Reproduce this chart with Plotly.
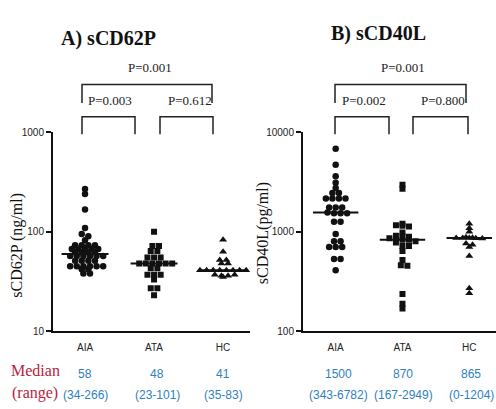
import numpy as np
import plotly.graph_objects as go

W, H = 496, 409

categories = ["AIA", "ATA", "HC"]

# Panel A: sCD62P (ng/ml)
a_aia = [268, 239, 167, 109, 95, 90, 82, 73, 73, 73, 73, 67, 67, 67, 67, 67,
         62, 62, 62, 62, 57, 57, 57, 57, 57, 57, 51, 51, 51, 51,
         45, 45, 45, 45, 45, 45, 42, 42, 38, 38]
a_ata = [100, 72, 72, 64, 64, 55, 55, 55, 48, 48, 48, 48, 48, 48,
         43, 43, 37, 37, 37, 33, 27, 27, 23]
a_hc = [83, 63, 52, 52, 48, 48, 41, 41, 41, 41, 41, 41, 41, 41,
        37, 36, 35, 36, 37]

# Panel B: sCD40L (pg/ml)
b_aia = [6800, 4700, 3600, 3100, 2750, 2450, 2450, 2150, 2150, 2150, 2150,
         1750, 1750, 1750, 1560, 1530, 1530, 1530, 1260, 1260, 950, 800, 800,
         700, 700, 700, 530, 530, 410]
b_ata = [2970, 2700, 1200, 1160, 1150, 1130, 980, 910, 900, 890, 860, 830,
         830, 830, 800, 780, 720, 720, 640, 520, 460, 455, 236, 189, 169]
b_hc = [1204, 1080, 1000, 880, 870, 865, 865, 865, 860, 855, 760, 740, 700,
        570, 270, 240]

median_text = ["58", "48", "41"]
range_text_a = ["(34-266)", "(23-101)", "(35-83)"]
median_text_b = ["1500", "870", "865"]
range_text_b = ["(343-6782)", "(167-2949)", "(0-1204)"]

p_a = ["P=0.001", "P=0.003", "P=0.612"]
p_b = ["P=0.001", "P=0.002", "P=0.800"]

symbols = ["circle", "square", "triangle-up"]
msizes = [6.5, 6, 7]


def swarm(vals, unit_px, dec_px=102.5, row_h=4.6, d=6.6):
    """Prism-style column scatter: bin by row height, spread within each row."""
    ys = np.log10(np.array(vals, float)) * dec_px
    rows = np.round(ys / row_h).astype(int)
    offs = np.zeros(len(vals))
    for r in np.unique(rows):
        idx = np.where(rows == r)[0]
        n = len(idx)
        shift = 0.25 * d if (r % 2 and n % 2 == 0) else 0.0
        offs[idx] = (np.arange(n) - (n - 1) / 2) * d + shift
    return offs / unit_px


def px(x):
    return x / W


def py(y):
    return 1 - y / H


fig = go.Figure()

panels = [
    (["x", "y"], [a_aia, a_ata, a_hc], 69.0),
    (["x2", "y2"], [b_aia, b_ata, b_hc], 67.5),
]
for (xa, ya), groups, upx in panels:
    mx, my = [], []
    for gi, vals in enumerate(groups):
        off = swarm(vals, upx)
        fig.add_trace(go.Scatter(
            x=gi + off, y=vals, mode="markers", xaxis=xa, yaxis=ya,
            marker=dict(symbol=symbols[gi], size=msizes[gi], color="#111111"),
            showlegend=False, hoverinfo="y"))
        med = float(np.median(vals))
        mx += [gi - 0.34, gi + 0.34, None]
        my += [med, med, None]
    fig.add_trace(go.Scatter(x=mx, y=my, mode="lines", xaxis=xa, yaxis=ya,
                             line=dict(color="#111111", width=2),
                             showlegend=False, hoverinfo="skip"))

tickfont = dict(family="Liberation Sans Narrow, Liberation Sans, Arial", size=10, color="#222")
axis_common = dict(showline=True, linecolor="#111", linewidth=2, showgrid=False,
                   zeroline=False, tickfont=tickfont)
ydom = [py(335), py(130)]

fig.update_layout(
    width=W, height=H, margin=dict(l=0, r=0, t=0, b=0),
    paper_bgcolor="white", plot_bgcolor="white",
    xaxis=dict(domain=[px(53), px(250)], range=[-0.464, 2.39], anchor="y",
               tickvals=[0, 1, 2], ticktext=categories, ticks="",
               ticklabelstandoff=6, **axis_common),
    yaxis=dict(domain=ydom, type="log", range=[1, 3], anchor="x",
               tickvals=[10, 100, 1000], ticktext=["10", "100", "1000"],
               ticks="outside", ticklen=5, tickwidth=2, tickcolor="#111", **axis_common),
    xaxis2=dict(domain=[px(303), 1.0], range=[-0.489, 2.4], anchor="y2",
                tickvals=[0, 1, 2], ticktext=categories, ticks="",
                ticklabelstandoff=6, **axis_common),
    yaxis2=dict(domain=ydom, type="log", range=[2, 4], anchor="x2",
                tickvals=[100, 1000, 10000], ticktext=["100", "1000", "10000"],
                ticks="outside", ticklen=5, tickwidth=2, tickcolor="#111", **axis_common),
)

ann = []


def text(x, y, s, size, family="Liberation Serif", color="#111", bold=False, angle=0):
    if bold:
        s = "<b>" + s + "</b>"
    ann.append(dict(x=px(x), y=py(y), xref="paper", yref="paper", text=s,
                    showarrow=False, xanchor="center", yanchor="middle",
                    textangle=angle, font=dict(family=family, size=size, color=color)))


text(108, 33, "A) sCD62P", 20, bold=True)
text(378, 28, "B) sCD40L", 20, bold=True)
text(17, 247, "sCD62P (ng/ml)", 16, angle=-90)
text(263, 234, "sCD40L(pg/ml)", 16, angle=-90)

for (cx_top, cx_l, cx_r), labels in [((150, 110, 190), p_a), ((403, 364, 443), p_b)]:
    text(cx_top, 63, labels[0], 13, color="#222")
    text(cx_l, 97, labels[1], 13, color="#222")
    text(cx_r, 97, labels[2], 13, color="#222")

red = "#b8233a"
blue = "#2f7fc1"
text(35, 376, "Median", 16, color=red)
text(35, 399, "(range)", 16, color=red)
nar = "Liberation Sans Narrow, Liberation Sans, Arial"
for xc, m, r in zip([85, 157, 223], median_text, range_text_a):
    text(xc, 379, m, 12, family=nar, color=blue)
    text(xc, 401, r, 12, family=nar, color=blue)
for xc, m, r in zip([338, 403, 471], median_text_b, range_text_b):
    text(xc, 379, m, 12, family=nar, color=blue)
    text(xc, 401, r, 12, family=nar, color=blue)

shapes = []


def bracket(x0, x1, ytop, ybot):
    path = "M {a},{b} L {a},{c} L {d},{c} L {d},{b}".format(
        a=px(x0), b=py(ybot), c=py(ytop), d=px(x1))
    shapes.append(dict(type="path", path=path, xref="paper", yref="paper",
                       line=dict(color="#222", width=1.5)))


bracket(82, 212, 81, 100)
bracket(82, 135, 114, 132)
bracket(160, 213, 114, 132)
bracket(335, 466, 81, 100)
bracket(335, 389, 114, 132)
bracket(413, 468, 114, 132)

fig.update_layout(annotations=ann, shapes=shapes)
fig.write_html("out.html")
